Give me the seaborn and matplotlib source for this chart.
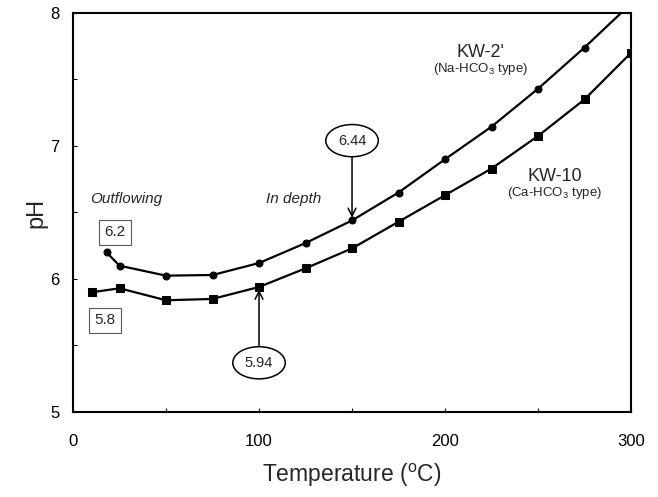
import matplotlib
matplotlib.use("Agg")
import matplotlib.pyplot as plt
import seaborn as sns
import pandas as pd
from matplotlib.ticker import MultipleLocator

# pH of the two waters as a function of temperature
temp_kw2 = [18, 25, 50, 75, 100, 125, 150, 175, 200, 225, 250, 275, 300]
ph_kw2 = [6.20, 6.10, 6.025, 6.03, 6.12, 6.27, 6.44, 6.65, 6.90, 7.145, 7.43, 7.74, 8.07]

temp_kw10 = [10, 25, 50, 75, 100, 125, 150, 175, 200, 225, 250, 275, 300]
ph_kw10 = [5.90, 5.93, 5.84, 5.85, 5.94, 6.08, 6.23, 6.43, 6.63, 6.83, 7.075, 7.35, 7.70]

x_ticks = [0, 100, 200, 300]
y_ticks = [5, 6, 7, 8]

sns.set_theme(style="white")
plt.rcParams["font.family"] = ["Liberation Sans", "DejaVu Sans"]
plt.rcParams["mathtext.fontset"] = "custom"
plt.rcParams["mathtext.rm"] = "Liberation Sans"
plt.rcParams["mathtext.it"] = "Liberation Sans:italic"

df2 = pd.DataFrame({"T": temp_kw2, "pH": ph_kw2})
df10 = pd.DataFrame({"T": temp_kw10, "pH": ph_kw10})

fig = plt.figure(figsize=(6.58, 4.97), dpi=100)
ax = fig.add_axes([0.111, 0.171, 0.848, 0.803])

sns.lineplot(data=df2, x="T", y="pH", ax=ax, color="black", lw=1.6,
             marker="o", markersize=5, markeredgecolor="black", estimator=None)
sns.lineplot(data=df10, x="T", y="pH", ax=ax, color="black", lw=1.6,
             marker="s", markersize=5.5, markeredgecolor="black", estimator=None)

ax.set_xlim(0, 300)
ax.set_ylim(5, 8)
ax.set_xticks(x_ticks)
ax.set_yticks(y_ticks)
ax.xaxis.set_minor_locator(MultipleLocator(50))
ax.yaxis.set_minor_locator(MultipleLocator(0.5))
ax.tick_params(axis="both", which="both", direction="in", length=3, width=0.8,
               colors="black", labelsize=12)
ax.tick_params(axis="x", which="major", pad=16)
ax.tick_params(axis="y", which="major", pad=10)
ax.tick_params(which="both", bottom=True, left=True, top=False, right=False)
for s in ax.spines.values():
    s.set_color("black")
    s.set_linewidth(1.5)

ax.set_xlabel(r"Temperature ($^{\rm o}$C)", fontsize=16.5, labelpad=9)
ax.set_ylabel("pH", fontsize=17, labelpad=2)

# labels of the two regimes
ax.text(9, 6.60, "Outflowing", fontsize=11, style="italic", va="center", ha="left")
ax.text(104, 6.60, "In depth", fontsize=11, style="italic", va="center", ha="left")

# boxed surface values
box = dict(boxstyle="square,pad=0.35", fc="white", ec="0.35", lw=0.8)
ax.text(22.5, 6.35, f"{ph_kw2[0]:.1f}", fontsize=11, ha="center", va="center", bbox=box)
ax.text(17, 5.69, "5.8", fontsize=11, ha="center", va="center", bbox=box)

# circled values at depth with arrows to their points
ell = dict(boxstyle="ellipse,pad=0.3", fc="white", ec="black", lw=1.1)
arrow = dict(arrowstyle="->", color="black", lw=1.1, shrinkA=0, shrinkB=2,
             mutation_scale=14)
ax.annotate(f"{ph_kw2[6]:.2f}", xy=(temp_kw2[6], ph_kw2[6]), xytext=(temp_kw2[6], 7.04),
            fontsize=10.5, ha="center", va="center", bbox=ell, arrowprops=arrow)
ax.annotate(f"{ph_kw10[4]:.2f}", xy=(temp_kw10[4], ph_kw10[4]), xytext=(temp_kw10[4], 5.37),
            fontsize=10.5, ha="center", va="center", bbox=ell, arrowprops=arrow)

# series names
ax.text(219, 7.70, "KW-2'", fontsize=13, ha="center", va="center")
ax.text(219, 7.575, r"(Na-HCO$_3$ type)", fontsize=9.5, ha="center", va="center")
ax.text(259, 6.77, "KW-10", fontsize=13, ha="center", va="center")
ax.text(259, 6.645, r"(Ca-HCO$_3$ type)", fontsize=9.5, ha="center", va="center")

fig.savefig("out.png", dpi=100)
